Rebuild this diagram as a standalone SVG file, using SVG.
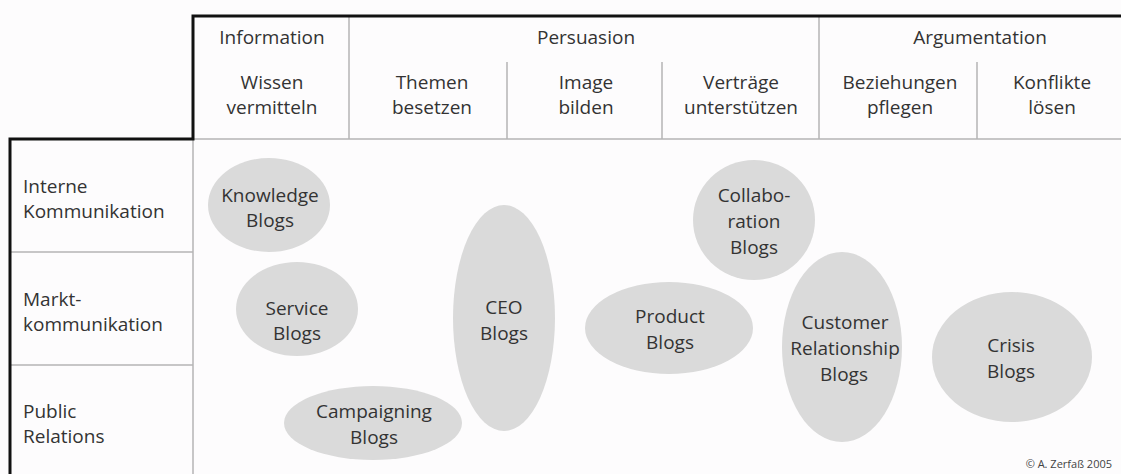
<svg xmlns="http://www.w3.org/2000/svg" width="1121" height="474" viewBox="0 0 1121 474">
<style>
.t{font-family:"Open Sans","Noto Sans",sans-serif;font-size:19px;fill:#333;text-anchor:middle}
.l{font-family:"Open Sans","Noto Sans",sans-serif;font-size:19px;fill:#333}
.g{stroke:#b4b4b4;stroke-width:1.5;fill:none}
.k{stroke:#111;stroke-width:3;fill:none}
.e{fill:#dadada}
</style>
<rect width="1121" height="474" fill="#fdfcfd"/>
<g id="grid">
<line class="g" x1="193" y1="139" x2="1121" y2="139"/>
<line class="g" x1="349" y1="16" x2="349" y2="139"/>
<line class="g" x1="819" y1="16" x2="819" y2="139"/>
<line class="g" x1="507" y1="62" x2="507" y2="139"/>
<line class="g" x1="662" y1="62" x2="662" y2="139"/>
<line class="g" x1="977" y1="62" x2="977" y2="139"/>
<line class="g" x1="193" y1="139" x2="193" y2="474"/>
<line class="g" x1="10" y1="252" x2="193" y2="252"/>
<line class="g" x1="10" y1="365" x2="193" y2="365"/>
<path class="k" d="M1121 16 H193 V139 H10 V474"/>
</g>
<g id="header">
<text class="t" x="272" y="44">Information</text>
<text class="t" x="586" y="44">Persuasion</text>
<text class="t" x="980" y="44">Argumentation</text>
<text class="t" x="272" y="89">Wissen</text><text class="t" x="272" y="114">vermitteln</text>
<text class="t" x="432" y="89">Themen</text><text class="t" x="432" y="114">besetzen</text>
<text class="t" x="586" y="89">Image</text><text class="t" x="586" y="114">bilden</text>
<text class="t" x="741" y="89">Verträge</text><text class="t" x="741" y="114">unterstützen</text>
<text class="t" x="900" y="89">Beziehungen</text><text class="t" x="900" y="114">pflegen</text>
<text class="t" x="1052" y="89">Konflikte</text><text class="t" x="1052" y="114">lösen</text>
</g>
<g id="rows">
<text class="l" x="23" y="193">Interne</text><text class="l" x="23" y="218">Kommunikation</text>
<text class="l" x="23" y="306">Markt-</text><text class="l" x="23" y="331">kommunikation</text>
<text class="l" x="23" y="418">Public</text><text class="l" x="23" y="443">Relations</text>
</g>
<g id="knowledge"><ellipse class="e" cx="269" cy="205" rx="61" ry="47"/><text class="t" x="270" y="202">Knowledge</text><text class="t" x="270" y="227">Blogs</text></g>
<g id="service"><ellipse class="e" cx="297" cy="309" rx="61" ry="47"/><text class="t" x="297" y="315">Service</text><text class="t" x="297" y="340">Blogs</text></g>
<g id="campaigning"><ellipse class="e" cx="373" cy="423" rx="89" ry="37"/><text class="t" x="374" y="418">Campaigning</text><text class="t" x="374" y="444">Blogs</text></g>
<g id="ceo"><ellipse class="e" cx="504" cy="318" rx="51" ry="113"/><text class="t" x="504" y="314">CEO</text><text class="t" x="504" y="340">Blogs</text></g>
<g id="product"><ellipse class="e" cx="669" cy="328" rx="84" ry="46"/><text class="t" x="670" y="323">Product</text><text class="t" x="670" y="349">Blogs</text></g>
<g id="collaboration"><ellipse class="e" cx="754" cy="220" rx="61" ry="60"/><text class="t" x="754" y="202">Collabo-</text><text class="t" x="754" y="228">ration</text><text class="t" x="754" y="254">Blogs</text></g>
<g id="customer"><ellipse class="e" cx="842" cy="347" rx="60" ry="95"/><text class="t" x="845" y="329">Customer</text><text class="t" x="845" y="355">Relationship</text><text class="t" x="844" y="381">Blogs</text></g>
<g id="crisis"><ellipse class="e" cx="1012" cy="357" rx="80" ry="65"/><text class="t" x="1011" y="352">Crisis</text><text class="t" x="1011" y="378">Blogs</text></g>
<text x="1112" y="468" font-family="'Open Sans','Noto Sans',sans-serif" font-size="11" fill="#444" text-anchor="end">© A. Zerfaß 2005</text>
</svg>
